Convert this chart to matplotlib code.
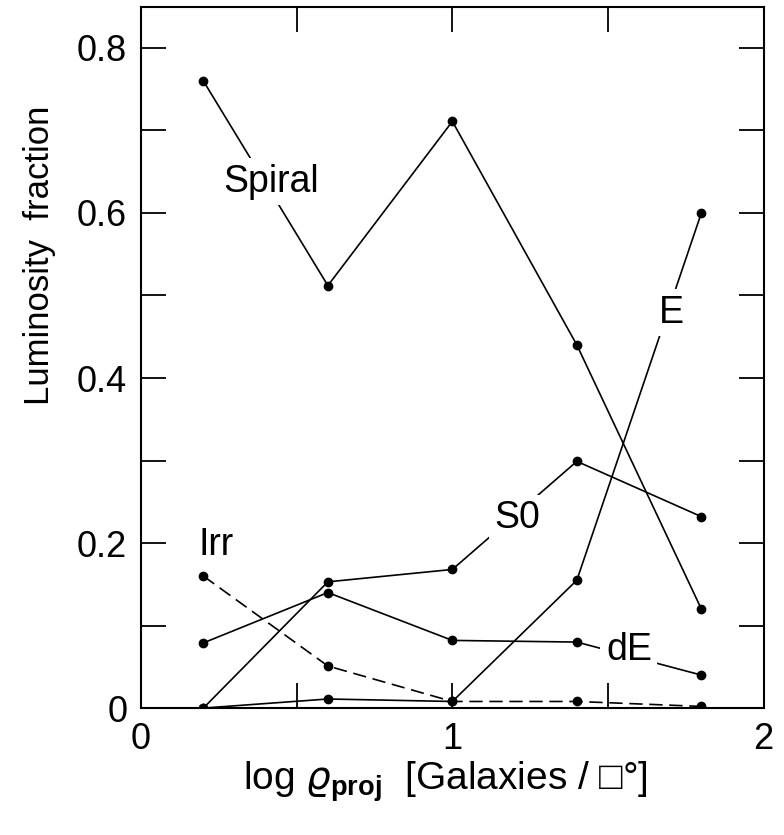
import numpy as np
import matplotlib
matplotlib.use("Agg")
import matplotlib.pyplot as plt
from matplotlib.ticker import MultipleLocator, FixedLocator

matplotlib.rcParams.update({
    "font.family": ["Liberation Sans", "DejaVu Sans"],
    "mathtext.fontset": "custom",
    "mathtext.rm": "Liberation Sans",
    "mathtext.bf": "Liberation Sans:bold",
})

# data
log_rho = [0.2, 0.6, 1.0, 1.4, 1.8]
spiral = [0.76, 0.512, 0.711, 0.44, 0.12]
s0 = [0.0, 0.153, 0.168, 0.299, 0.232]
ell = [0.0, 0.011, 0.008, 0.155, 0.60]
de = [0.079, 0.14, 0.082, 0.080, 0.040]
irr = [0.16, 0.051, 0.008, 0.008, 0.002]

# label name, x, y
labels = [("Spiral", 0.417, 0.638), ("S0", 1.21, 0.23), ("E", 1.705, 0.479),
          ("dE", 1.567, 0.070), ("Irr", 0.24, 0.198)]

fig = plt.figure(figsize=(7.84, 8.35), dpi=100)
ax = fig.add_axes([0.180, 0.152, 0.794, 0.840])

kw = dict(color="black", lw=1.2, marker="o", ms=6)
for ys in (spiral, s0, ell, de):
    ax.plot(log_rho, ys, **kw)
ax.plot(log_rho, irr, ls=(0, (8, 4)), **kw)

for name, x, y in labels:
    box = None if name == "Irr" else dict(fc="white", ec="none", pad=4)
    ax.text(x, y, name, fontsize=27, ha="center", va="center", bbox=box, zorder=5)

ax.set_xlim(0, 2)
ax.set_ylim(0, 0.85)
ax.xaxis.set_major_locator(FixedLocator([0, 1, 2]))
ax.xaxis.set_minor_locator(FixedLocator([0.5, 1.5]))
ax.yaxis.set_major_locator(FixedLocator([0, 0.2, 0.4, 0.6, 0.8]))
ax.yaxis.set_minor_locator(MultipleLocator(0.1))
ax.set_xticklabels(["0", "1", "2"])
ax.set_yticklabels(["0", "0.2", "0.4", "0.6", "0.8"])
ax.tick_params(which="both", direction="in", top=True, right=True,
               length=18, width=1.3, labelsize=26, pad=10)
for s in ax.spines.values():
    s.set_linewidth(1.5)

fig.text(40 / 784, 1 - 255 / 835, "Luminosity  fraction", rotation=90,
         ha="center", va="center", fontsize=25)
fig.text(445 / 784, 1 - 782 / 835,
         r"log $\varrho_{\mathbf{proj}}$  [Galaxies / □°]",
         ha="center", va="center", fontsize=28)

fig.savefig("out.png", dpi=100)
